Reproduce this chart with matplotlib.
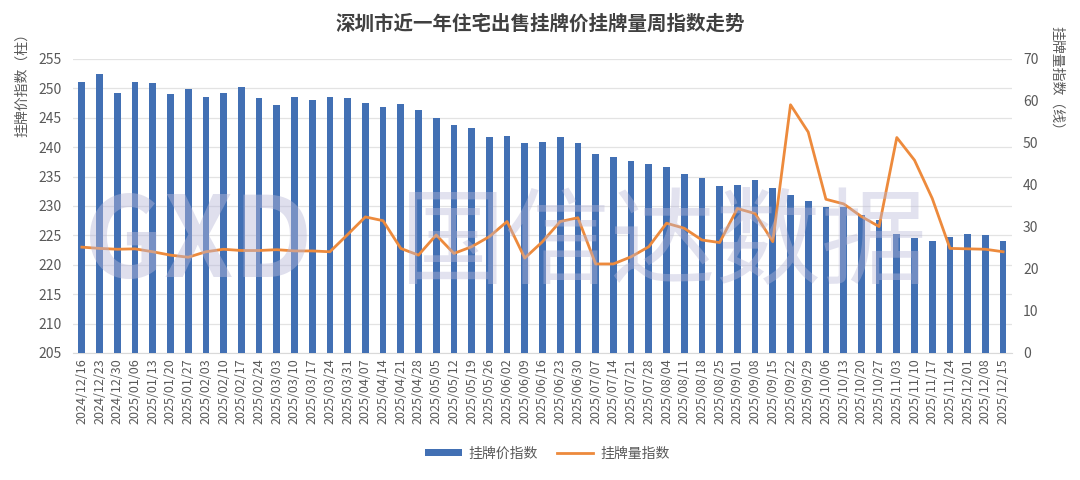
import matplotlib
matplotlib.use("Agg")
import matplotlib.pyplot as plt
import numpy as np
from matplotlib.patches import Patch
from matplotlib.lines import Line2D

plt.rcParams['font.family'] = ['Noto Sans CJK SC', 'DejaVu Sans']

# weekly dates
dates = ["2024/12/16", "2024/12/23", "2024/12/30", "2025/01/06", "2025/01/13", "2025/01/20",
         "2025/01/27", "2025/02/03", "2025/02/10", "2025/02/17", "2025/02/24", "2025/03/03",
         "2025/03/10", "2025/03/17", "2025/03/24", "2025/03/31", "2025/04/07", "2025/04/14",
         "2025/04/21", "2025/04/28", "2025/05/05", "2025/05/12", "2025/05/19", "2025/05/26",
         "2025/06/02", "2025/06/09", "2025/06/16", "2025/06/23", "2025/06/30", "2025/07/07",
         "2025/07/14", "2025/07/21", "2025/07/28", "2025/08/04", "2025/08/11", "2025/08/18",
         "2025/08/25", "2025/09/01", "2025/09/08", "2025/09/15", "2025/09/22", "2025/09/29",
         "2025/10/06", "2025/10/13", "2025/10/20", "2025/10/27", "2025/11/03", "2025/11/10",
         "2025/11/17", "2025/11/24", "2025/12/01", "2025/12/08", "2025/12/15"]

# listing price index (bars, left axis)
price_idx = [251.1, 252.4, 249.3, 251.1, 251.0, 249.1, 249.9, 248.6, 249.3, 250.2,
             248.3, 247.2, 248.5, 248.1, 248.5, 248.3, 247.6, 246.9, 247.3, 246.4,
             245.0, 243.7, 243.2, 241.8, 241.9, 240.7, 240.8, 241.7, 240.7, 238.9,
             238.4, 237.6, 237.1, 236.7, 235.5, 234.8, 233.4, 233.6, 234.4, 233.1,
             231.9, 230.8, 229.8, 229.8, 228.5, 227.6, 225.3, 224.5, 224.1, 224.8,
             225.2, 225.0, 224.0]

# listing volume index (line, right axis)
volume_idx = [25.2, 24.9, 24.7, 24.8, 24.1, 23.3, 22.8, 24.1, 24.7, 24.4,
              24.4, 24.6, 24.3, 24.3, 24.1, 28.2, 32.4, 31.5, 24.9, 23.3,
              28.1, 23.7, 25.3, 27.7, 31.3, 22.6, 26.5, 31.3, 32.2, 21.2,
              21.2, 22.9, 25.3, 30.9, 29.7, 26.9, 26.3, 34.4, 33.2, 26.5,
              59.1, 52.6, 36.6, 35.5, 32.5, 30.1, 51.3, 45.9, 36.8, 24.9,
              24.8, 24.7, 24.1]

bar_color = "#4270B4"
line_color = "#ED8A3C"
text_gray = "#595959"

fig = plt.figure(figsize=(10.8, 4.8), dpi=100)
ax = fig.add_axes([0.0676, 0.2646, 0.8694, 0.6125])
ax2 = ax.twinx()

x = np.arange(len(dates))

# faint watermark
fig.text(0.078, 0.49, "GXD", fontsize=80, color="#B8B8D8", alpha=0.45,
         fontweight="bold", va="center", ha="left", zorder=0)
fig.text(0.37, 0.49, "国信达数据", fontsize=76, color="#B8B8D8", alpha=0.4,
         va="center", ha="left", zorder=0)

ax.bar(x, price_idx, width=0.38, color=bar_color, zorder=3)
ax.set_ylim(205, 255)
ax.set_yticks(np.arange(205, 256, 5))
ax.set_xlim(-0.5, len(dates) - 0.5)
ax.set_xticks(x)
ax.set_xticklabels(dates, rotation=90, fontsize=9, color=text_gray)
ax.tick_params(axis="y", labelsize=10, colors=text_gray, length=0, pad=8)
ax.tick_params(axis="x", length=0, pad=4)
ax.grid(axis="y", color="#E3E3E3", linewidth=0.9, zorder=0)
ax.set_axisbelow(True)
for s in ["top", "right", "left"]:
    ax.spines[s].set_visible(False)
ax.spines["bottom"].set_color("#D9D9D9")
ax.patch.set_alpha(0)

ax2.plot(x, volume_idx, color=line_color, linewidth=2, zorder=4)
ax2.set_ylim(0, 70)
ax2.set_yticks(np.arange(0, 71, 10))
ax2.tick_params(axis="y", labelsize=10, colors=text_gray, length=0, pad=8)
for s in ["top", "right", "left", "bottom"]:
    ax2.spines[s].set_visible(False)

ax.set_ylabel("挂牌价指数（柱）", fontsize=10, color=text_gray)
ax.yaxis.set_label_coords(-0.047, 0.925)
ax2.set_ylabel("挂牌量指数（线）", fontsize=10, color=text_gray, rotation=270)
ax2.yaxis.set_label_coords(1.055, 0.925)

fig.text(0.5, 0.95, "深圳市近一年住宅出售挂牌价挂牌量周指数走势", ha="center", va="center",
         fontsize=14, fontweight="bold", color="#404040")

handles = [Patch(facecolor=bar_color), Line2D([0], [0], color=line_color, linewidth=2)]
fig.legend(handles, ["挂牌价指数", "挂牌量指数"], loc="center", bbox_to_anchor=(0.507, 0.055),
           ncol=2, frameon=False, fontsize=10, labelcolor=text_gray, handlelength=2.6,
           handleheight=0.45, handletextpad=0.5, columnspacing=1.4)

fig.savefig("out.png", dpi=100)
